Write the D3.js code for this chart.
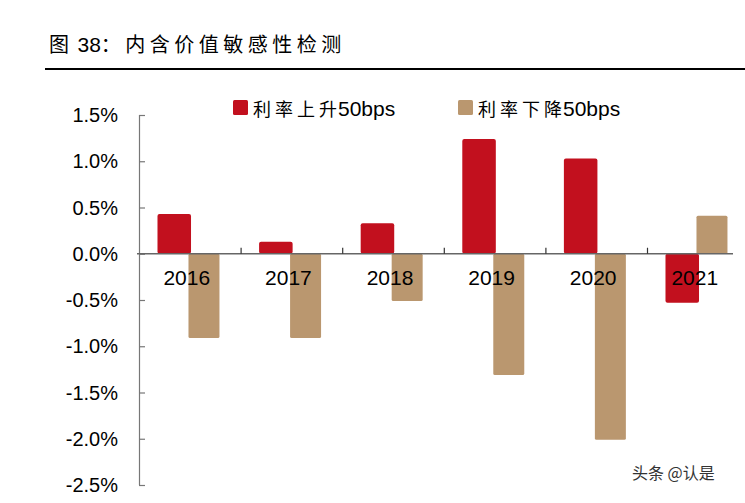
<!DOCTYPE html>
<html><head><meta charset="utf-8">
<script src="https://cdn.jsdelivr.net/npm/d3@7"></script>
<style>
html,body{margin:0;padding:0;background:#fff;}
svg{display:block;}
</style></head>
<body>
<svg id="c" width="745" height="503"></svg>
<script>
const titleParts = ["图 ", "38", "：内含价值敏感性检测"];
const years = ["2016","2017","2018","2019","2020","2021"];
const seriesNames = ["利率上升50bps","利率下降50bps"];
const rateUp = [0.43, 0.13, 0.33, 1.24, 1.03, -0.53];
const rateDown = [-0.91, -0.91, -0.51, -1.31, -2.01, 0.41];
const yTicks = [1.5, 1.0, 0.5, 0.0, -0.5, -1.0, -1.5, -2.0, -2.5];
const colors = ["#C2101E", "#BA976F"];
const watermark = "头条 @认是";

const svg = d3.select("#c");
const latin = "'Liberation Sans', Arial, sans-serif";
const cjk = "'Noto Sans CJK SC', sans-serif";

// title
const tt = svg.append("text").attr("x", 49).attr("y", 52).attr("fill", "#000").attr("font-size", 20);
tt.append("tspan").attr("font-family", cjk).attr("letter-spacing", 2).text(titleParts[0]);
tt.append("tspan").attr("font-family", latin).attr("font-size", 21).text(titleParts[1]);
tt.append("tspan").attr("font-family", cjk).attr("letter-spacing", 4.5).text(titleParts[2]);
svg.append("line").attr("x1", 45).attr("x2", 745).attr("y1", 69).attr("y2", 69)
  .attr("stroke", "#000").attr("stroke-width", 2);

const y = d3.scaleLinear().domain([-2.5, 1.5]).range([485, 115]);
const x = d3.scaleBand().domain(years).range([139, 139 + 6 * 101.6]).padding(0);
const bw = x.bandwidth();

// bars
const g = svg.append("g");
const data = years.map((yr, i) => ({yr, up: rateUp[i], down: rateDown[i]}));
g.selectAll("rect.up").data(data).join("rect").attr("class", "up")
  .attr("x", d => x(d.yr) + bw * 0.182)
  .attr("width", bw * 0.33)
  .attr("y", d => y(Math.max(0, d.up)))
  .attr("height", d => Math.abs(y(d.up) - y(0)))
  .attr("rx", 2).attr("fill", colors[0]);
g.selectAll("rect.down").data(data).join("rect").attr("class", "down")
  .attr("x", d => x(d.yr) + bw * 0.487)
  .attr("width", bw * 0.305)
  .attr("y", d => y(Math.max(0, d.down)))
  .attr("height", d => Math.abs(y(d.down) - y(0)))
  .attr("rx", 1.5).attr("fill", colors[1]);

// y axis
const yAxis = d3.axisRight(y).tickValues(yTicks).tickSize(6).tickFormat("");
const ya = svg.append("g").attr("transform", "translate(139,0)").call(yAxis);
ya.select(".domain").attr("stroke", "#777").attr("stroke-width", 1.2).attr("d", `M0.5,${y(1.5)}V${y(-2.5)}`);
ya.selectAll(".tick line").attr("stroke", "#777").attr("stroke-width", 1.2);
svg.selectAll("text.ylab").data(yTicks).join("text").attr("class", "ylab")
  .attr("x", 118).attr("y", d => y(d)).attr("dy", "0.36em")
  .attr("text-anchor", "end").attr("font-family", latin).attr("font-size", 20)
  .attr("fill", "#000").text(d => d.toFixed(1) + "%");

// x axis (zero line)
svg.append("line").attr("x1", 137).attr("x2", 733).attr("y1", y(0)).attr("y2", y(0))
  .attr("stroke", "#666").attr("stroke-width", 1.5);
svg.selectAll("line.xt").data(years.slice(1)).join("line").attr("class", "xt")
  .attr("x1", d => x(d) + 0.5).attr("x2", d => x(d) + 0.5)
  .attr("y1", y(0)).attr("y2", y(0) - 6)
  .attr("stroke", "#333").attr("stroke-width", 1.2);
svg.selectAll("text.xl").data(years).join("text").attr("class", "xl")
  .attr("x", d => x(d) + bw / 2 - 3).attr("y", 285)
  .attr("text-anchor", "middle").attr("font-family", latin).attr("font-size", 21)
  .attr("fill", "#000").text(d => d);

// legend
const legX = [233, 458];
seriesNames.forEach((name, i) => {
  svg.append("rect").attr("x", legX[i]).attr("y", 100).attr("width", 15).attr("height", 15)
    .attr("rx", 1.5).attr("fill", colors[i]);
  const t = svg.append("text").attr("x", legX[i] + 20).attr("y", 116)
    .attr("font-size", 20).attr("fill", "#000");
  const m = name.match(/^(\D+)(.*)$/);
  t.append("tspan").attr("font-family", cjk).attr("font-size", 18).attr("letter-spacing", 4).text(m[1]);
  t.append("tspan").attr("font-family", latin).attr("font-size", 21).attr("dx", -3).text(m[2]);
});

// watermark
svg.append("text").attr("x", 632).attr("y", 479)
  .attr("font-family", cjk).attr("font-size", 16).attr("fill", "#333").text(watermark);
</script>
</body></html>
